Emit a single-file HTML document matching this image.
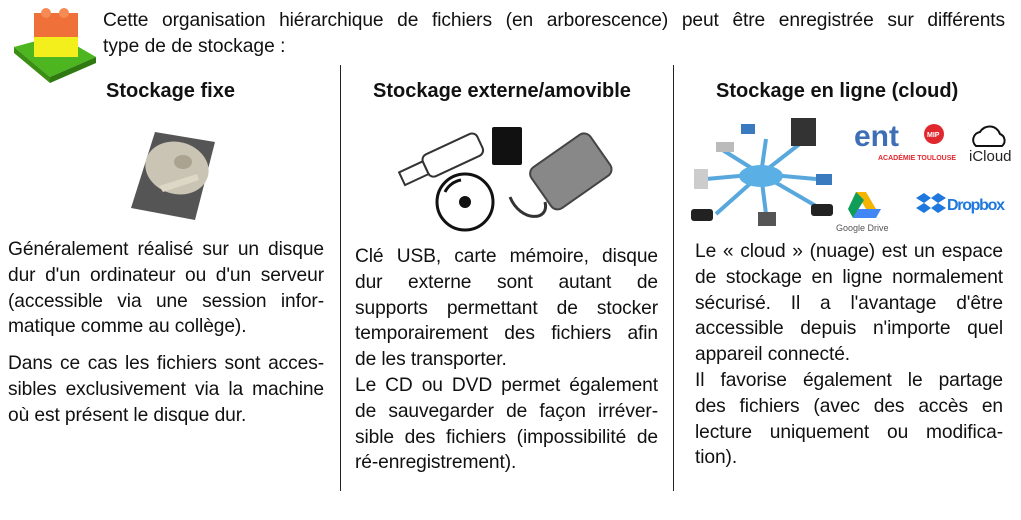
<!DOCTYPE html>
<html><head><meta charset="utf-8"><style>
body{margin:0;width:1021px;height:520px;background:#fff;position:relative;overflow:hidden;font-family:"Liberation Sans",Arial,sans-serif;color:#111}
.a{position:absolute}
.j{text-align:justify;text-align-last:justify;white-space:nowrap}
.l{text-align:left;white-space:nowrap}
.col div{height:25.8px;line-height:25.8px;font-size:19.2px;letter-spacing:-0.1px}
h3{margin:0;position:absolute;font-size:20px;font-weight:bold;white-space:nowrap}
.vl{position:absolute;width:1px;background:#222;top:65px;height:426px}
</style></head><body>
<svg class="a" style="left:10px;top:5px" width="88" height="78" viewBox="0 0 88 78">
<polygon points="4,42 48,30 86,52 40,72" fill="#4db51f"/>
<polygon points="4,42 40,72 40,78 4,48" fill="#3a8e14"/>
<polygon points="40,72 86,52 86,58 40,78" fill="#2f7a10"/>
<rect x="24" y="30" width="44" height="22" fill="#f2ef1c"/>
<rect x="24" y="8" width="44" height="24" fill="#f0703a"/>
<circle cx="36" cy="8" r="5" fill="#f58a55"/><circle cx="54" cy="8" r="5" fill="#f58a55"/>
</svg>
<div class="a j" style="left:103px;top:8px;width:902px;font-size:19.2px;letter-spacing:-0.1px;line-height:26px">Cette organisation hiérarchique de fichiers (en arborescence) peut être enregistrée sur différents</div>
<div class="a l" style="left:103px;top:34px;font-size:19.2px;line-height:26px">type de de stockage :</div>

<h3 style="left:106px;top:80px">Stockage fixe</h3>
<h3 style="left:373px;top:80px">Stockage externe/amovible</h3>
<h3 style="left:716px;top:80px">Stockage en ligne (cloud)</h3>
<div class="vl" style="left:340px"></div>
<div class="vl" style="left:673px"></div>

<svg class="a" style="left:125px;top:128px" width="96" height="96" viewBox="0 0 96 96">
<polygon points="30,4 90,14 70,92 6,80" fill="#555"/>
<ellipse cx="52" cy="40" rx="32" ry="26" fill="#c9c4b4" transform="rotate(15 52 40)"/>
<ellipse cx="58" cy="34" rx="9" ry="7" fill="#a9a38f"/>
<path d="M34 58 L72 46 L74 52 L38 64Z" fill="#ddd8c6"/>
</svg>

<svg class="a" style="left:395px;top:122px" width="225" height="110" viewBox="0 0 225 110">
<g transform="rotate(-25 50 40)"><rect x="30" y="25" width="60" height="24" rx="6" fill="#fff" stroke="#333" stroke-width="2"/><rect x="4" y="30" width="26" height="14" fill="#fff" stroke="#333" stroke-width="2"/></g>
<rect x="97" y="5" width="30" height="38" rx="2" fill="#111"/>
<circle cx="70" cy="80" r="28" fill="#fff" stroke="#111" stroke-width="3"/><circle cx="70" cy="80" r="6" fill="#111"/>
<path d="M50 70 A22 22 0 0 1 66 58" stroke="#111" stroke-width="3" fill="none"/>
<g transform="rotate(-35 175 50)"><rect x="140" y="25" width="72" height="50" rx="8" fill="#888" stroke="#444" stroke-width="2"/></g>
<path d="M115 75 C125 100 155 100 150 80" stroke="#333" stroke-width="3" fill="none"/>
</svg>

<svg class="a" style="left:686px;top:114px" width="325" height="120" viewBox="0 0 325 120">
<g stroke="#58a8de" stroke-width="4"><line x1="75" y1="60" x2="20" y2="65"/><line x1="75" y1="60" x2="35" y2="35"/><line x1="75" y1="60" x2="80" y2="25"/><line x1="75" y1="60" x2="120" y2="25"/><line x1="75" y1="60" x2="130" y2="65"/><line x1="75" y1="60" x2="130" y2="92"/><line x1="75" y1="60" x2="80" y2="100"/><line x1="75" y1="60" x2="30" y2="100"/></g>
<ellipse cx="75" cy="62" rx="22" ry="11" fill="#5ab0e4"/>
<rect x="105" y="4" width="25" height="28" fill="#333"/><rect x="8" y="55" width="14" height="20" fill="#ccc"/><rect x="30" y="28" width="18" height="10" fill="#bbb"/>
<rect x="55" y="10" width="14" height="10" fill="#3a7bbf"/><rect x="130" y="60" width="16" height="11" fill="#3a7bbf"/>
<rect x="5" y="95" width="22" height="12" rx="3" fill="#222"/><rect x="125" y="90" width="22" height="12" rx="3" fill="#222"/><rect x="72" y="98" width="18" height="14" fill="#555"/>
<text x="168" y="32" font-family="Liberation Sans" font-size="30" font-weight="bold" fill="#3e6fb6">ent</text>
<circle cx="248" cy="20" r="10" fill="#e0282e"/><text x="241" y="23" font-size="7" fill="#fff" font-family="Liberation Sans" font-weight="bold">MIP</text>
<text x="192" y="46" font-size="7" fill="#e0282e" font-family="Liberation Sans" font-weight="bold">ACADÉMIE TOULOUSE</text>
<path d="M290 32 a8 8 0 0 1 4-14 a11 11 0 0 1 20 2 a7 7 0 0 1 2 12z" fill="none" stroke="#111" stroke-width="2"/>
<text x="283" y="47" font-size="15" font-family="Liberation Sans" fill="#222">iCloud</text>
<polygon points="170,78 180,78 190,95 180,95" fill="#f4b400"/><polygon points="170,78 162,95 167,104 178,86" fill="#0f9d58"/><polygon points="167,104 190,104 195,95 172,95" fill="#4285f4"/>
<text x="150" y="117" font-size="9" font-family="Liberation Sans" fill="#555">Google Drive</text>
<g fill="#1e78dd"><polygon points="230,84 238,79 245,84 238,89"/><polygon points="245,84 252,79 260,84 252,89"/><polygon points="230,94 238,89 245,94 238,99"/><polygon points="245,94 252,89 260,94 252,99"/></g>
<text x="261" y="96" font-size="16" font-weight="bold" font-family="Liberation Sans" fill="#1e78dd" textLength="58">Dropbox</text>
</svg>

<div class="a col" style="left:8px;top:237px;width:316px">
<div class="j">Généralement réalisé sur un disque</div>
<div class="j">dur d'un ordinateur ou d'un serveur</div>
<div class="j">(accessible via une session infor-</div>
<div class="l">matique comme au collège).</div>
<div style="height:11px"></div>
<div class="j">Dans ce cas les fichiers sont acces-</div>
<div class="j">sibles exclusivement via la machine</div>
<div class="l">où est présent le disque dur.</div>
</div>

<div class="a col" style="left:355px;top:244px;width:303px">
<div class="j">Clé USB, carte mémoire, disque</div>
<div class="j">dur externe sont autant de</div>
<div class="j">supports permettant de stocker</div>
<div class="j">temporairement des fichiers afin</div>
<div class="l">de les transporter.</div>
<div class="j">Le CD ou DVD permet également</div>
<div class="j">de sauvegarder de façon irréver-</div>
<div class="j">sible des fichiers (impossibilité de</div>
<div class="l">ré-enregistrement).</div>
</div>

<div class="a col" style="left:695px;top:239px;width:308px">
<div class="j">Le « cloud » (nuage) est un espace</div>
<div class="j">de stockage en ligne normalement</div>
<div class="j">sécurisé. Il a l'avantage d'être</div>
<div class="j">accessible depuis n'importe quel</div>
<div class="l">appareil connecté.</div>
<div class="j">Il favorise également le partage</div>
<div class="j">des fichiers (avec des accès en</div>
<div class="j">lecture uniquement ou modifica-</div>
<div class="l">tion).</div>
</div>
</body></html>
